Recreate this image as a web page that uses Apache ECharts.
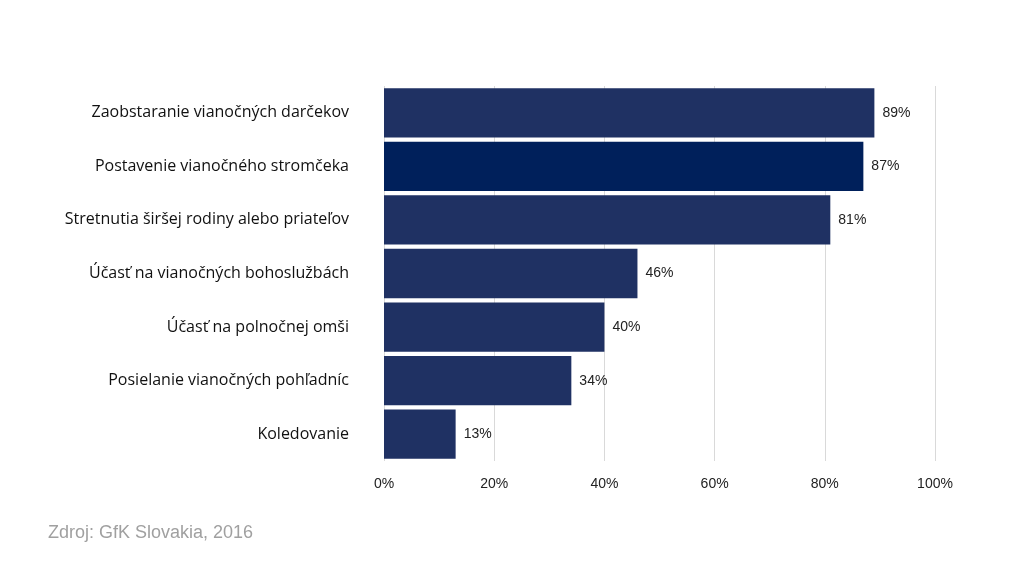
<!DOCTYPE html>
<html>
<head>
<meta charset="utf-8">
<script src="https://cdn.jsdelivr.net/npm/echarts@6/dist/echarts.min.js"></script>
<style>
html,body{margin:0;padding:0;background:#fff;}
#chart{width:1024px;height:576px;}
</style>
</head>
<body>
<div id="chart"></div>
<script>
// data
var categories = [
	'Zaobstaranie vianočných darčekov',
	'Postavenie vianočného stromčeka',
	'Stretnutia širšej rodiny alebo priateľov',
	'Účasť na vianočných bohoslužbách',
	'Účasť na polnočnej omši',
	'Posielanie vianočných pohľadníc',
	'Koledovanie'
];
var values = [89, 87, 81, 46, 40, 34, 13];
var tickStep = 20;
var source = 'Zdroj: GfK Slovakia, 2016';

var chart = echarts.init(document.getElementById('chart'));

var barData = values.map(function (v, i) {
	return {
		value: v,
		itemStyle: { color: i === 1 ? '#00205b' : '#1f3163' }
	};
});

chart.setOption({
	animation: false,
	grid: { left: 384, right: 89, top: 86, bottom: 115 },
	graphic: [{
		type: 'text', left: 48, top: 524,
		style: { text: source, fill: '#a0a0a0', font: '18px "Liberation Sans", Arial, sans-serif' }
	}],
	xAxis: {
		type: 'value', min: 0, max: 100, interval: tickStep,
		axisLine: { show: false }, axisTick: { show: false },
		splitLine: { lineStyle: { color: '#d9d9d9' } },
		axisLabel: {
			formatter: '{value}%', color: '#222', fontSize: 14, margin: 16,
			fontFamily: '"Liberation Sans", Arial, sans-serif'
		}
	},
	yAxis: {
		type: 'category', inverse: true, data: categories,
		axisLine: { show: false }, axisTick: { show: false },
		axisLabel: {
			color: '#111', fontSize: 16, margin: 35,
			fontFamily: '"Open Sans", "Noto Sans", sans-serif'
		}
	},
	series: [{
		type: 'bar', data: barData, barCategoryGap: '8%',
		label: {
			show: true, position: 'right', distance: 8, formatter: '{c}%',
			color: '#222', fontSize: 14, fontFamily: '"Liberation Sans", Arial, sans-serif'
		}
	}]
});
</script>
</body>
</html>
